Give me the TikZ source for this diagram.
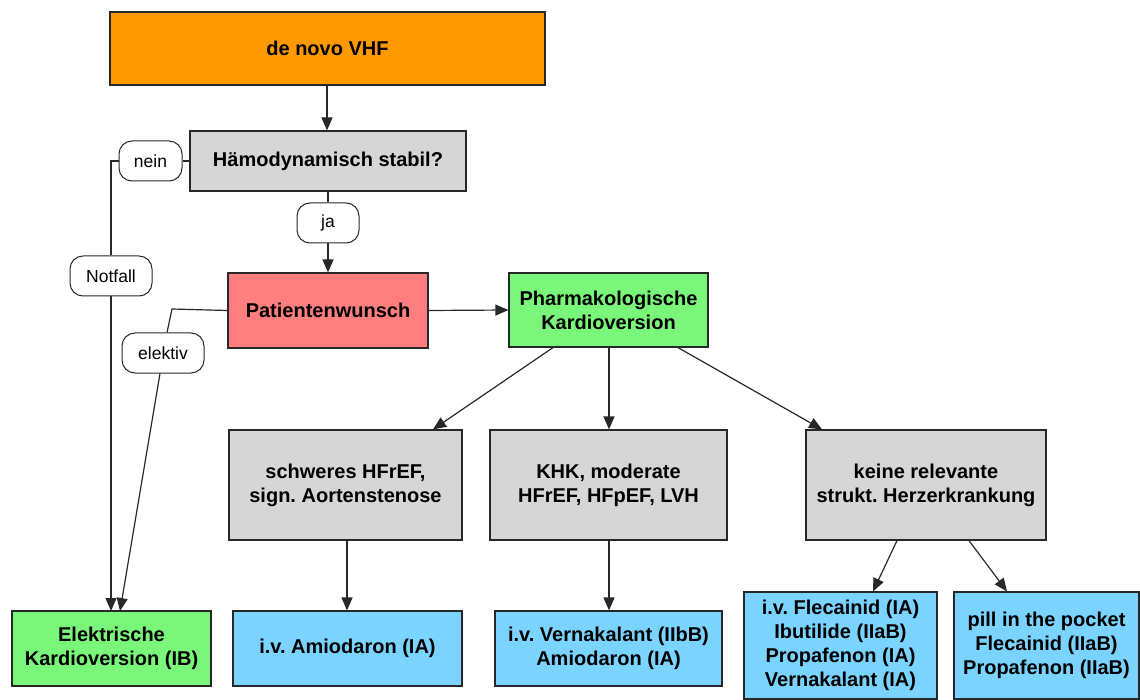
\documentclass[tikz,border=0pt]{standalone}
\usepackage{fontspec}
\setmainfont{Liberation Sans}
\frenchspacing
\usetikzlibrary{arrows.meta}
\definecolor{cOrange}{RGB}{255,153,0}
\definecolor{cGray}{RGB}{214,214,214}
\definecolor{cRed}{RGB}{255,127,127}
\definecolor{cGreen}{RGB}{122,247,122}
\definecolor{cBlue}{RGB}{122,212,255}
\definecolor{cLine}{RGB}{40,40,40}
\tikzset{
  box/.style={draw=cLine, line width=1.2pt, inner sep=0pt, align=center,
    font=\fontsize{20}{24}\selectfont\bfseries\frenchspacing},
  lbl/.style={draw=cLine, line width=1pt, fill=white, rounded corners=13pt,
    inner sep=0pt, minimum height=40pt, font=\fontsize{17.5}{20}\selectfont},
  conn/.style={draw=cLine, line width=1.2pt},
  arr/.style={conn, -{Triangle[length=13pt,width=11pt]}}
}
\newcommand{\bx}[7]{% name, x1, y1, x2, y2, fill, text
  \node[box, fill=#6, minimum width={#4-#2}, minimum height={#5-#3}]
    (#1) at ({(#2+#4)/2},{(#3+#5)/2}) {#7};}
\begin{document}
\begin{tikzpicture}[x=1pt,y=-1pt]
\useasboundingbox (0,0) rectangle (1140,700);
\bx{vhf}{110}{12}{545}{85}{cOrange}{de novo VHF}
\bx{stab}{190}{131}{466}{191}{cGray}{Hämodynamisch stabil?}
\bx{wunsch}{228}{273}{428}{348}{cRed}{Patientenwunsch}
\bx{pharm}{509}{273}{708}{347}{cGreen}{Pharmakologische\\Kardioversion}
\bx{g1}{229}{430}{462}{540}{cGray}{schweres HFrEF,\\sign. Aortenstenose}
\bx{g2}{490}{430}{727}{540}{cGray}{KHK, moderate\\HFrEF, HFpEF, LVH}
\bx{g3}{806}{430}{1046}{540}{cGray}{keine relevante\\strukt. Herzerkrankung}
\bx{ekv}{12}{611}{211}{686}{cGreen}{Elektrische\\Kardioversion (IB)}
\bx{amio}{233}{611}{462}{686}{cBlue}{i.v. Amiodaron (IA)}
\bx{vern}{495}{611}{722}{686}{cBlue}{i.v. Vernakalant (IIbB)\\Amiodaron (IA)}
\bx{flec}{744}{592}{937}{699}{cBlue}{i.v. Flecainid (IA)\\Ibutilide (IIaB)\\Propafenon (IA)\\Vernakalant (IA)}
\bx{pill}{954}{592}{1139}{699}{cBlue}{pill in the pocket\\Flecainid (IIaB)\\Propafenon (IIaB)}

\node[lbl, minimum width=63pt] (nein) at (150.5,161) {nein};
\node[lbl, minimum width=62pt] (ja) at (328,223) {ja};
\node[lbl, minimum width=82pt] (notfall) at (111,276) {Notfall};
\node[lbl, minimum width=82pt] (elektiv) at (163,353) {elektiv};

\coordinate (nc) at (111,161);
\coordinate (wc) at (172,309);
\coordinate (eb1) at (111,611);
\coordinate (eb2) at (120,611);

% connectors
\draw[arr] (vhf.south -| 327,0) -- (stab.north -| 327,0);
\draw[conn] (stab.south -| ja) -- (ja.north);
\draw[arr] (ja.south) -- (wunsch.north -| ja);
\draw[conn] (stab.west) -- (nein.east);
\draw[conn] (nein.west) -- (nc) -- (notfall.north);
\draw[arr] (notfall.south) -- (eb1);
\draw[conn] (wunsch.west) -- (wc) -- (elektiv.north -| 167,0);
\draw[arr] (elektiv.south -| 160,0) -- (eb2);
\draw[arr] (wunsch.east) -- (pharm.west);
\draw[arr] (pharm.south -| 553,0) -- (g1.north -| 433,0);
\draw[arr] (pharm.south -| 609,0) -- (g2.north -| 609,0);
\draw[arr] (pharm.south -| 678,0) -- (g3.north -| 822,0);
\draw[arr] (g1.south -| 347,0) -- (amio.north -| 347,0);
\draw[arr] (g2.south -| 609,0) -- (vern.north -| 609,0);
\draw[arr] (g3.south -| 897,0) -- (flec.north -| 873,0);
\draw[arr] (g3.south -| 969,0) -- (pill.north -| 1007,0);
\end{tikzpicture}
\end{document}
